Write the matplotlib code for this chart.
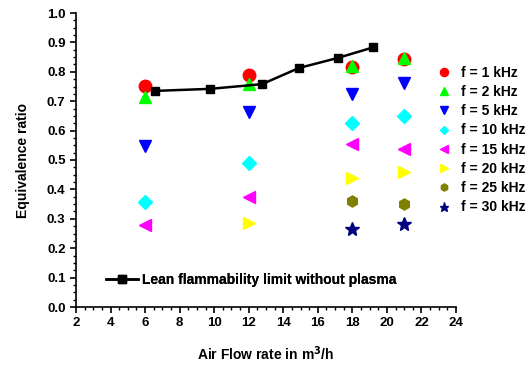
import matplotlib
matplotlib.use("Agg")
import matplotlib.pyplot as plt
from matplotlib.ticker import MultipleLocator, FormatStrFormatter
from matplotlib.lines import Line2D

plt.rcParams['font.family'] = ['Liberation Sans', 'DejaVu Sans']
plt.rcParams['font.weight'] = 'bold'

# Lean flammability limit without plasma
lean_x = [6.57, 9.76, 12.77, 14.91, 17.15, 19.2]
lean_y = [0.735, 0.742, 0.758, 0.813, 0.847, 0.883]

flow = [6, 12, 18, 21]
f1 = [0.752, 0.788, 0.817, 0.843]
f2 = [0.715, 0.760, 0.820, 0.846]
f5 = [0.549, 0.662, 0.723, 0.763]
f10 = [0.358, 0.489, 0.625, 0.651]
f15 = [0.279, 0.375, 0.554, 0.537]
flow20 = [12, 18, 21]
f20 = [0.287, 0.438, 0.460]
flow25 = [18, 21]
f25 = [0.360, 0.350]
flow30 = [18, 21]
f30 = [0.265, 0.281]

fig = plt.figure(figsize=(5.3, 3.68), dpi=100)
ax = fig.add_axes([76/530, 1 - 307/368, 380/530, 294/368])

series = [
    (flow, f1, 'o', 'red', 'f = 1 kHz', 9),
    (flow, f2, '^', '#00ff00', 'f = 2 kHz', 9),
    (flow, f5, 'v', 'blue', 'f = 5 kHz', 9),
    (flow, f10, 'D', 'cyan', 'f = 10 kHz', 7),
    (flow, f15, '<', 'magenta', 'f = 15 kHz', 9),
    (flow20, f20, '>', 'yellow', 'f = 20 kHz', 9),
    (flow25, f25, 'h', '#808000', 'f = 25 kHz', 8),
    (flow30, f30, '*', '#000080', 'f = 30 kHz', 10),
]
for xs, ys, m, c, lab, ms in series:
    ax.plot(xs, ys, linestyle='none', marker=m, color=c, markersize=ms, label=lab)

line, = ax.plot(lean_x, lean_y, '-', color='black', lw=1.8, marker='s', markersize=6,
                label='Lean flammability limit without plasma')

ax.set_xlim(2, 24)
ax.set_ylim(0, 1.0)
ax.xaxis.set_major_locator(MultipleLocator(2))
ax.xaxis.set_minor_locator(MultipleLocator(0.5))
ax.yaxis.set_major_locator(MultipleLocator(0.1))
ax.yaxis.set_minor_locator(MultipleLocator(0.025))
ax.yaxis.set_major_formatter(FormatStrFormatter('%.1f'))
ax.spines['top'].set_visible(False)
ax.spines['right'].set_visible(False)
for s in ['left', 'bottom']:
    ax.spines[s].set_linewidth(1.2)
ax.tick_params(which='major', direction='out', length=4, width=1.2, labelsize=9.5)
ax.tick_params(which='minor', direction='out', length=2.5, width=1)
for t in ax.get_xticklabels() + ax.get_yticklabels():
    t.set_fontweight('bold')

ax.set_xlabel('Air Flow rate in m$^\\mathbf{3}$/h', fontsize=10, fontweight='bold', labelpad=11)
ax.set_ylabel('Equivalence ratio', fontsize=10, fontweight='bold', labelpad=12)

leg1 = ax.legend(handles=[line], loc='lower left', bbox_to_anchor=(0.045, 0.026),
                 frameon=False, handlelength=2.3, handletextpad=0.3,
                 prop={'weight': 'bold', 'size': 10})
ax.add_artist(leg1)

leg_handles = [Line2D([], [], linestyle='none', marker=m, color=c, markersize=ms * 0.65)
               for _, _, m, c, _, ms in series]
fig.legend(handles=leg_handles, labels=[s[4] for s in series], loc='upper left',
           bbox_to_anchor=(430/530, 1 - 60/368), frameon=False,
           prop={'weight': 'bold', 'size': 10}, labelspacing=0.38, handletextpad=0.6,
           handlelength=1.2, borderaxespad=0)

fig.savefig('out.png', dpi=100)
